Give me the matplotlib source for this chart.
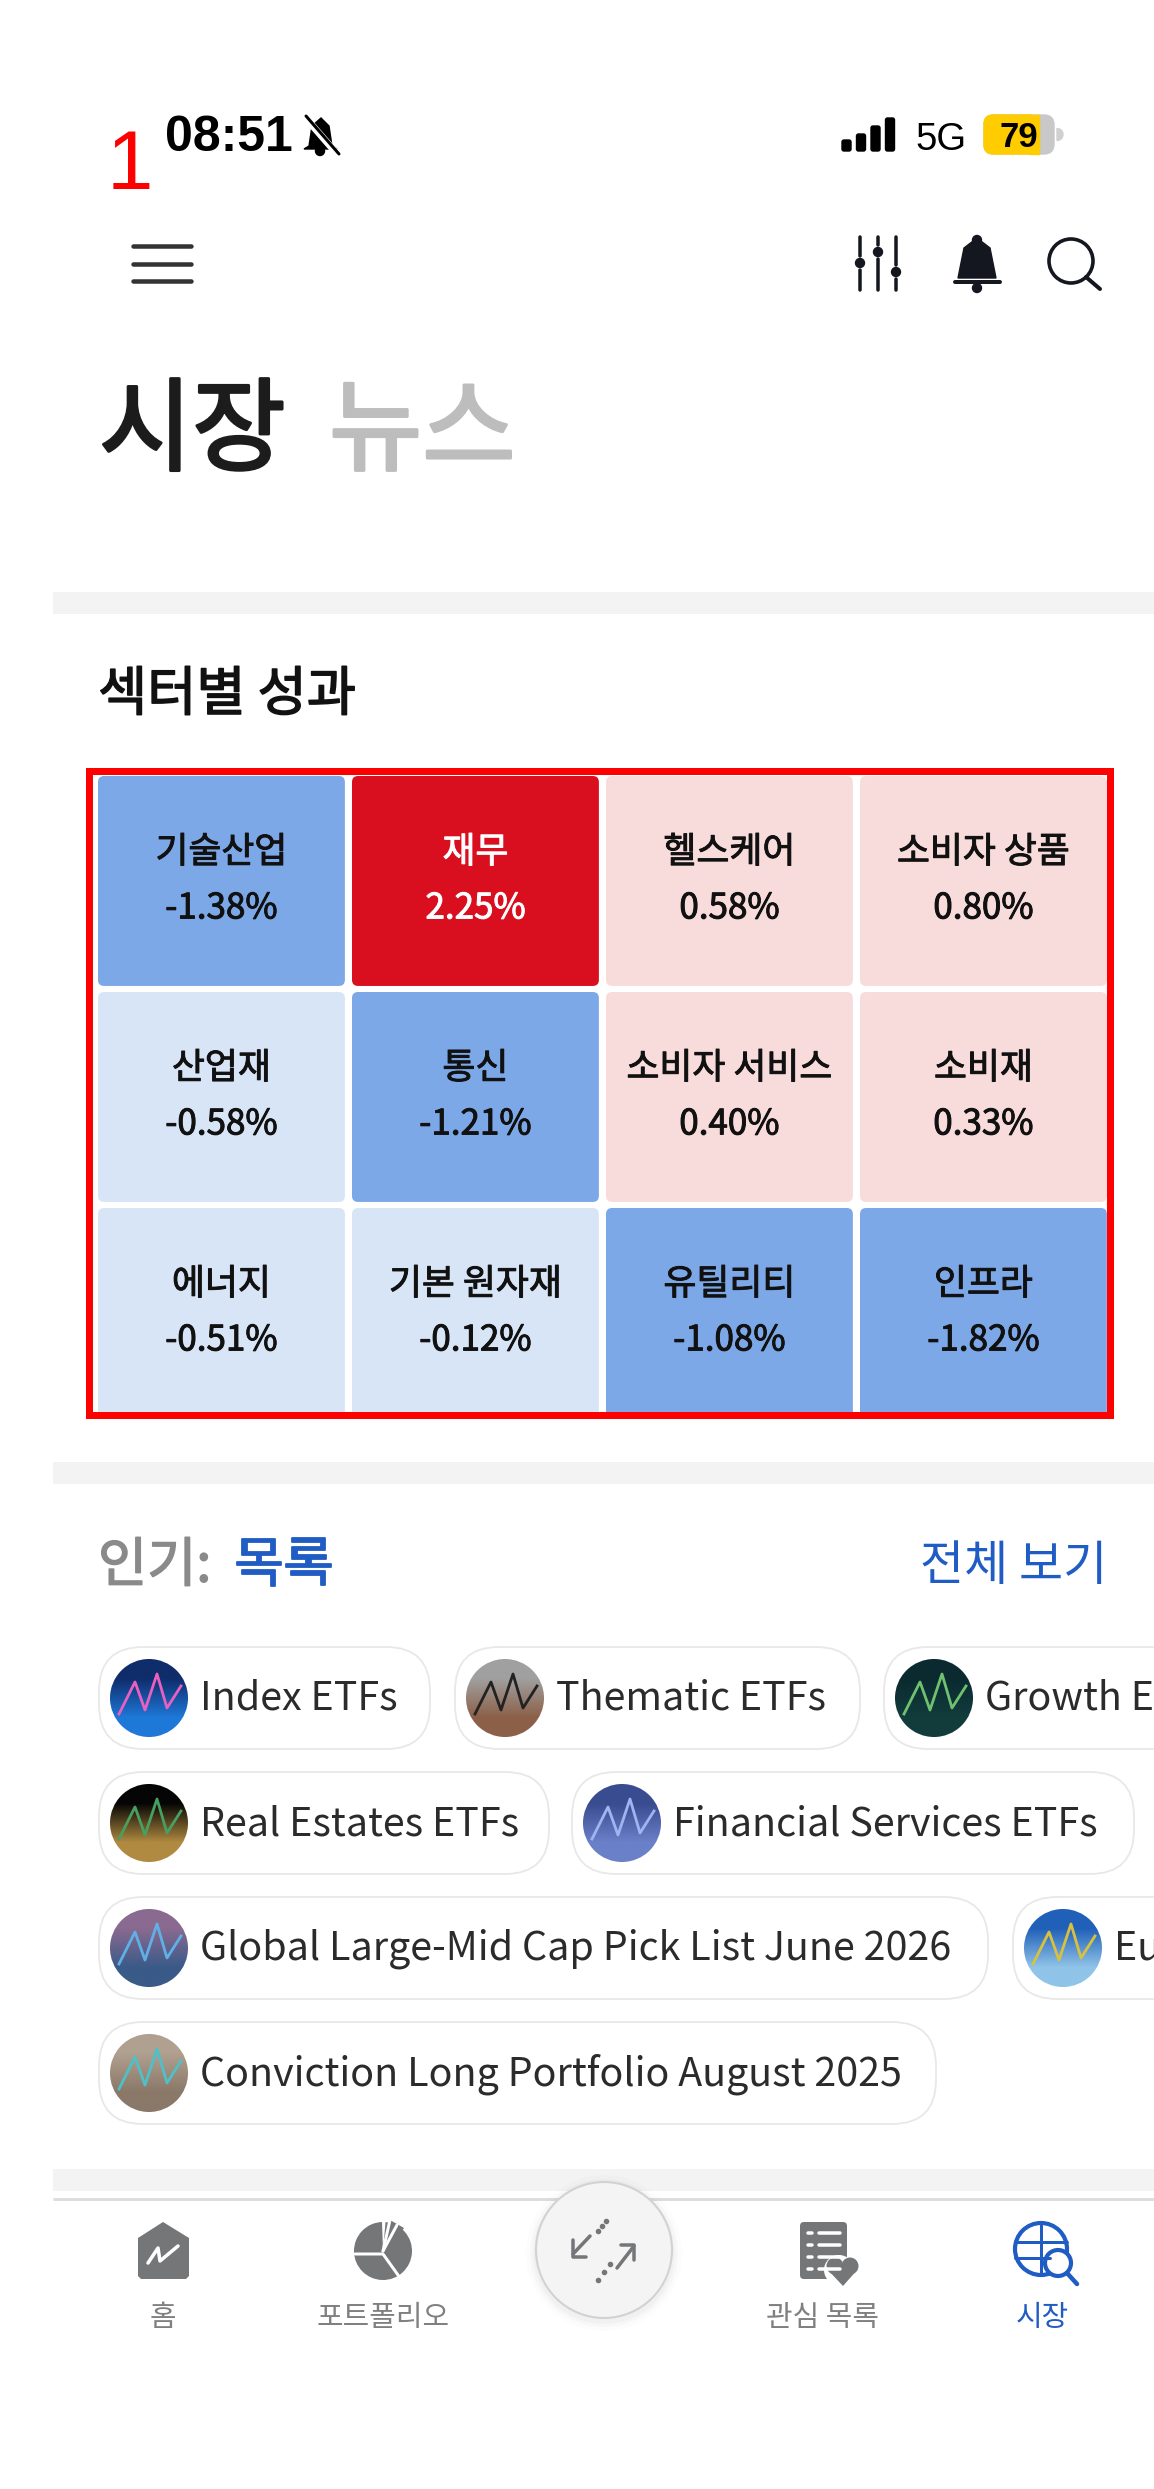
import numpy as np
import matplotlib
matplotlib.use("Agg")
import matplotlib.pyplot as plt
import matplotlib.patheffects as pe
from matplotlib.patches import Circle, FancyBboxPatch, Polygon, Rectangle, Wedge

plt.rcParams['font.family'] = ['Noto Sans CJK KR', 'DejaVu Sans']

W, H = 1154, 2489

SECTORS = ["기술산업", "재무", "헬스케어", "소비자 상품",
           "산업재", "통신", "소비자 서비스", "소비재",
           "에너지", "기본 원자재", "유틸리티", "인프라"]
CHANGES = [-1.38, 2.25, 0.58, 0.80,
           -0.58, -1.21, 0.40, 0.33,
           -0.51, -0.12, -1.08, -1.82]
PILLS = ["Index ETFs", "Thematic ETFs", "Growth ETFs",
         "Real Estates ETFs", "Financial Services ETFs",
         "Global Large-Mid Cap Pick List June 2026", "Europe ETFs",
         "Conviction Long Portfolio August 2025"]
NAV_LABELS = ["홈", "포트폴리오", "관심 목록", "시장"]

BLUE = "#1F5CC4"
GREY = "#757678"
BAND = "#F3F3F3"


def cell_colour(v):
    if v >= 2:
        return "#D90F1F"
    if v > 0:
        return "#F8DCDC"
    if v > -1:
        return "#D8E5F7"
    return "#7DA8E8"


def thick(color, w=0.7):
    # the CJK family only has regular and bold, this gives the medium look
    return [pe.withStroke(linewidth=w, foreground=color)]


fig = plt.figure(figsize=(W / 100, H / 100), dpi=100, facecolor="white")
ax = fig.add_axes([0, 0, 1, 1])
ax.set_xlim(0, W)
ax.set_ylim(H, 0)
ax.axis("off")


def line(xs, ys, color, lw, cap="round", z=3):
    ax.plot(xs, ys, color=color, lw=lw * 0.72, solid_capstyle=cap, zorder=z)


# status bar
ax.text(107, 189, "1", color="#FF0000", fontsize=60, family="Liberation Sans", va="baseline", ha="left")
ax.text(165, 151, "08:51", color="black", fontsize=36, family="Liberation Sans", weight="bold", va="baseline")
ax.add_patch(Polygon([(321, 118), (329, 126), (332, 146), (337, 149), (304, 149), (309, 146), (312, 126)], color="black"))
ax.add_patch(Circle((320, 151), 4.5, color="black"))
line([304, 338], [116, 155], "white", 7)
line([306, 339], [116, 154], "black", 3)
for i, h in enumerate([11, 17, 25, 33]):
    ax.add_patch(FancyBboxPatch((842 + i * 14.5, 151 - h), 9, h, boxstyle="round,pad=0,rounding_size=2", color="black"))
ax.text(915, 150, "5G", color="black", fontsize=27.5, family="Liberation Sans", va="baseline")
ax.add_patch(FancyBboxPatch((984, 115), 70, 39, boxstyle="round,pad=0,rounding_size=10", color="#C8C8C8"))
ax.add_patch(FancyBboxPatch((984, 115), 55, 39, boxstyle="round,pad=0,rounding_size=9", color="#FFCC00"))
ax.add_patch(Rectangle((1030, 115), 9, 39, color="#FFCC00"))
ax.text(1019, 147, "79", color="black", fontsize=25, family="Liberation Sans", weight="bold", ha="center", va="baseline")
ax.add_patch(Wedge((1057, 134.5), 6, -90, 90, color="#D0D0D0"))

# top icons
for y in [246, 264, 281]:
    line([133, 191], [y, y], "#333333", 4.5)
for x, knob in zip([860, 878, 896], [263, 252, 272]):
    line([x, x], [237, knob - 7], "#14171F", 3.5)
    line([x, x], [knob + 7, 290], "#14171F", 3.5)
    ax.add_patch(Circle((x, knob), 4.5, color="#14171F"))
ax.add_patch(Polygon([(977, 238), (990, 248), (996, 278), (958, 278), (964, 248)], color="#14171F"))
ax.add_patch(Circle((977, 240), 4.5, color="#14171F"))
line([955, 1000], [282, 282], "#14171F", 4)
ax.add_patch(Circle((977, 288), 4.5, color="#14171F"))
ax.add_patch(Circle((1071, 261), 22, fill=False, ec="#14171F", lw=2.6))
line([1086, 1100], [277, 289], "#14171F", 4)

# title
ax.text(99, 433, "시장", color="#1C1C1C", fontsize=73, va="center", path_effects=thick("#1C1C1C", 2.2))
ax.text(329, 433, "뉴스", color="#BDBDBD", fontsize=73, va="center", path_effects=thick("#BDBDBD", 2.2))
ax.add_patch(Rectangle((53, 592), W - 53, 22, color=BAND, lw=0))
ax.text(98, 695, "섹터별 성과", color="#111111", fontsize=38.5, va="center", path_effects=thick("#111111", 1.1))

# sector heatmap
ax_heat = fig.add_axes([98 / W, 1 - 1424 / H, 1016 / W, 648 / H])
ax_heat.set_xlim(0, 4)
ax_heat.set_ylim(3, 0)
ax_heat.axis("off")
n_cols = 4
for i, (name, chg) in enumerate(zip(SECTORS, CHANGES)):
    row, col = divmod(i, n_cols)
    ax_heat.add_patch(FancyBboxPatch((col, row), 0.972, 0.972, boxstyle="round,pad=0,rounding_size=0.024",
                                     mutation_aspect=1.167, color=cell_colour(chg), lw=0))
    tc = "white" if chg >= 2 else "#111111"
    ax_heat.text(col + 0.486, row + 0.355, name, color=tc, fontsize=25.8, ha="center", va="center", path_effects=thick(tc))
    ax_heat.text(col + 0.486, row + 0.613, "%.2f%%" % chg, color=tc, fontsize=25.2, ha="center", va="center", path_effects=thick(tc))
ax_heat.set_zorder(2)

# red frame on top of the cells
ax_top = fig.add_axes([0, 0, 1, 1])
ax_top.set_xlim(0, W)
ax_top.set_ylim(H, 0)
ax_top.axis("off")
ax_top.set_zorder(3)
ax_top.add_patch(Rectangle((88.5, 770.5), 1021, 644.5, fill=False, ec="#FF0000", lw=7 * 0.72))

# popular lists
ax.add_patch(Rectangle((53, 1462), W - 53, 22, color=BAND, lw=0))
ax.text(98, 1566, "인기:", color="#8A8A8A", fontsize=38.5, va="center", path_effects=thick("#8A8A8A", 1.1))
ax.text(234, 1566, "목록", color=BLUE, fontsize=39, va="center", path_effects=thick(BLUE, 1.3))
ax.text(1107, 1566, "전체 보기", color=BLUE, fontsize=34.5, ha="right", va="center")

pill_boxes = [(99, 331, 1647), (455, 405, 1647), (884, 400, 1647),
              (99, 450, 1772), (572, 562, 1772),
              (99, 889, 1897), (1013, 300, 1897),
              (99, 837, 2022)]
thumbs = [("#0F2C6B", "#1E78D8", "#E860C0"), ("#A0A0A0", "#8C6048", "#222222"), ("#0A2A30", "#123C3C", "#70C070"),
          ("#050505", "#B08A40", "#48A060"), ("#3A4C90", "#6A80C8", "#9FB4F0"),
          ("#8A6A90", "#3A5A88", "#60B0E8"), ("#2060B8", "#90C4E8", "#D8C040"),
          ("#B0A090", "#8A7868", "#50C0C8")]
for (x0, w, y0), label, (c1, c2, c3) in zip(pill_boxes, PILLS, thumbs):
    ax.add_patch(FancyBboxPatch((x0, y0), w, 102, boxstyle="round,pad=0,rounding_size=44", fc="white", ec="#E8E8E8", lw=1.3, zorder=1))
    cx, cy = x0 + 50, y0 + 51
    grad = np.array([matplotlib.colors.to_rgb(c1), matplotlib.colors.to_rgb(c2)]).reshape(2, 1, 3)
    im = ax.imshow(grad, extent=(cx - 39, cx + 39, cy + 39, cy - 39), aspect="auto", interpolation="bilinear", zorder=2)
    clip = Circle((cx, cy), 39, transform=ax.transData)
    im.set_clip_path(clip)
    zig, = ax.plot(cx + np.array([-30, -14, -4, 8, 18, 32]), cy + np.array([16, -16, 12, -24, 10, -12]), color=c3, lw=2, zorder=3)
    zig.set_clip_path(clip)
    ax.text(x0 + 101, cy + 1, label, color="#2B2B2B", fontsize=28.4, va="center", clip_on=True, zorder=3)
ax.set_xlim(0, W)
ax.set_ylim(H, 0)

# bottom nav
ax.add_patch(Rectangle((53, 2169), W - 53, 22, color=BAND, lw=0))
line([53, W], [2199, 2199], "#DDDDDD", 3, cap="butt")
for r, a in [(78, 0.012), (74, 0.018), (71, 0.025)]:
    ax.add_patch(Circle((604, 2253), r, color="black", alpha=a, lw=0, zorder=3))
ax.add_patch(Circle((604, 2250), 68, fc="#F4F4F4", ec="#D2D2D2", lw=1.5, zorder=4))
line([573, 590], [2254, 2236], GREY, 3.5, z=5)
line([573, 573, 586], [2240, 2257, 2257], GREY, 3.5, z=5)
line([617, 634], [2268, 2246], GREY, 3.5, z=5)
line([621, 634, 634], [2245, 2245, 2260], GREY, 3.5, z=5)
ax.plot([598, 602, 606], [2231, 2226, 2221], ls="none", marker="o", ms=3, color=GREY, zorder=5)
ax.plot([598, 604, 610], [2280, 2272, 2264], ls="none", marker="o", ms=3, color=GREY, zorder=5)

ax.add_patch(Polygon([(138, 2276), (138, 2238), (163, 2222), (189, 2238), (189, 2276), (186, 2279), (141, 2279)], color=GREY, lw=0))
line([148, 158, 160, 178], [2263, 2248, 2261, 2246], "white", 3.5)
ax.add_patch(Wedge((383, 2251), 29, -85, 268, color=GREY, lw=0))
line([383, 397], [2251, 2225], "white", 3)
line([355, 383, 398], [2254, 2254, 2275], "white", 3)
ax.add_patch(Polygon([(390, 2220), (390, 2248), (404, 2228)], color=GREY, lw=0))
line([383, 390], [2251, 2220], "white", 3)
ax.add_patch(FancyBboxPatch((800, 2222), 47, 57, boxstyle="round,pad=0,rounding_size=4", color=GREY, lw=0))
for y in [2233, 2245, 2257, 2269]:
    line([808, 812], [y, y], "white", 3.5)
    line([819, 840], [y, y], "white", 3.5)
ax.add_patch(Circle((839, 2270), 15, color="white", lw=0))
ax.add_patch(Circle((835, 2266), 8.5, color=GREY, lw=0))
ax.add_patch(Circle((850, 2266), 8.5, color=GREY, lw=0))
ax.add_patch(Polygon([(827, 2269), (858, 2269), (843, 2286)], color=GREY, lw=0))
ax.add_patch(Circle((1041, 2249), 26, fill=False, ec=BLUE, lw=3))
line([1015, 1067], [2242, 2242], BLUE, 3)
line([1015, 1050], [2258, 2258], BLUE, 3)
line([1041, 1041], [2223, 2275], BLUE, 3)
ax.add_patch(Circle((1058, 2263), 13, fc="white", ec=BLUE, lw=3))
line([1067, 1077], [2273, 2284], BLUE, 4.5)

for x, label in zip([163, 383, 822, 1042], NAV_LABELS):
    ax.text(x, 2318, label, color=BLUE if label == "시장" else "#808080", fontsize=20.8, ha="center", va="center")

fig.savefig("out.png", dpi=100, facecolor="white")
